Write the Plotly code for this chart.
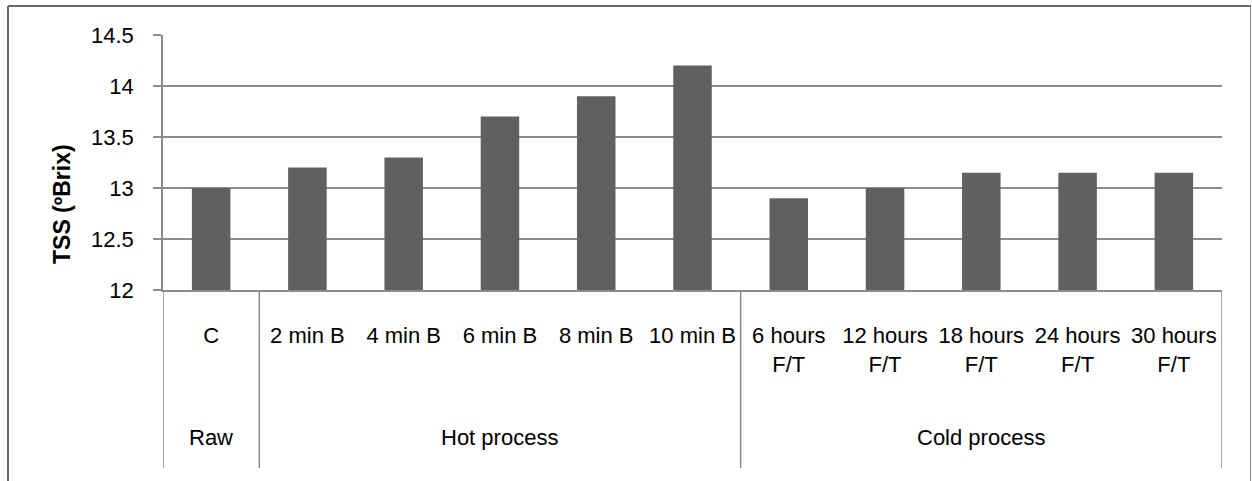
import plotly.graph_objects as go

# ---- data ----
categories = ["C", "2 min B", "4 min B", "6 min B", "8 min B", "10 min B",
              "6 hours<br>F/T", "12 hours<br>F/T", "18 hours<br>F/T",
              "24 hours<br>F/T", "30 hours<br>F/T"]
tss_values = [13.0, 13.2, 13.3, 13.7, 13.9, 14.2, 12.9, 13.0, 13.15, 13.15, 13.15]
groups = ["Raw", "Hot process", "Cold process"]
group_sizes = [1, 5, 5]
y_ticks = [12, 12.5, 13, 13.5, 14, 14.5]
y_ticktext = ["12", "12.5", "13", "13.5", "14", "14.5"]
y_title = "TSS (ºBrix)"

# ---- layout constants (pixels) ----
W, H = 1252, 481
L, R, T, B = 163, 1222, 35, 290
pw, ph = R - L, B - T

def px_x(p):
    return (p - L) / pw

def px_y(p):
    return (B - p) / ph

FONT = "Liberation Sans, Arial, sans-serif"
GRID = "#8c8c8c"
BAR = "#606060"

fig = go.Figure()
fig.add_trace(go.Bar(
    x=list(range(len(categories))), y=tss_values,
    marker=dict(color=BAR, line=dict(width=0)),
    hoverinfo="skip",
))

shapes = []
# group separators (category boundaries) extending below the axis
bounds = [-0.5]
acc = -0.5
for s in group_sizes:
    acc += s
    bounds.append(acc)
for b in bounds:
    shapes.append(dict(type="line", xref="x", yref="paper",
                       x0=b, x1=b, y0=0, y1=px_y(468),
                       line=dict(color=GRID, width=1.5)))
# outer chart border
shapes.append(dict(type="line", xref="paper", yref="paper",
                   x0=px_x(8), x1=px_x(1251), y0=px_y(6), y1=px_y(6),
                   line=dict(color="#666666", width=2)))
shapes.append(dict(type="line", xref="paper", yref="paper",
                   x0=px_x(8), x1=px_x(8), y0=px_y(6), y1=px_y(500),
                   line=dict(color="#666666", width=2)))
shapes.append(dict(type="line", xref="paper", yref="paper",
                   x0=px_x(1250.5), x1=px_x(1250.5), y0=px_y(6), y1=px_y(500),
                   line=dict(color="#8a8a8a", width=1)))

annotations = []
start = 0
for g, s in zip(groups, group_sizes):
    center = start + (s - 1) / 2
    annotations.append(dict(text=g, x=center, xref="x", y=px_y(437), yref="paper",
                            showarrow=False, xanchor="center", yanchor="middle",
                            font=dict(family=FONT, size=22, color="#000000")))
    start += s
annotations.append(dict(text=y_title, textangle=-90, x=px_x(62), xref="paper",
                        y=px_y(204), yref="paper", showarrow=False,
                        xanchor="center", yanchor="middle",
                        font=dict(family=FONT, size=23, color="#000000", weight="bold")))

fig.update_layout(
    width=W, height=H,
    margin=dict(l=L, r=W - R, t=T, b=H - B, pad=0),
    plot_bgcolor="white", paper_bgcolor="white",
    showlegend=False,
    bargap=0.6,
    shapes=shapes,
    annotations=annotations,
    font=dict(family=FONT, size=22, color="#000000"),
)
fig.update_xaxes(
    range=[-0.5, len(categories) - 0.5],
    tickmode="array", tickvals=list(range(len(categories))), ticktext=categories,
    ticks="", showgrid=False, zeroline=False,
    showline=True, linecolor=GRID, linewidth=1.5,
    tickfont=dict(family=FONT, size=22, color="#000000"),
    ticklabelstandoff=25,
)
fig.update_yaxes(
    range=[12, 14.5], tickmode="array", tickvals=y_ticks, ticktext=y_ticktext,
    showgrid=True, gridcolor=GRID, gridwidth=1.5,
    ticks="outside", ticklen=8, tickcolor=GRID, tickwidth=1.5,
    showline=True, linecolor=GRID, linewidth=1.5, zeroline=False,
    tickfont=dict(family=FONT, size=22, color="#000000"),
    ticklabelstandoff=15,
)

fig.write_html("out.html", config={"displayModeBar": False},
               post_script="document.body.style.margin='0';document.body.style.overflow='hidden';")
